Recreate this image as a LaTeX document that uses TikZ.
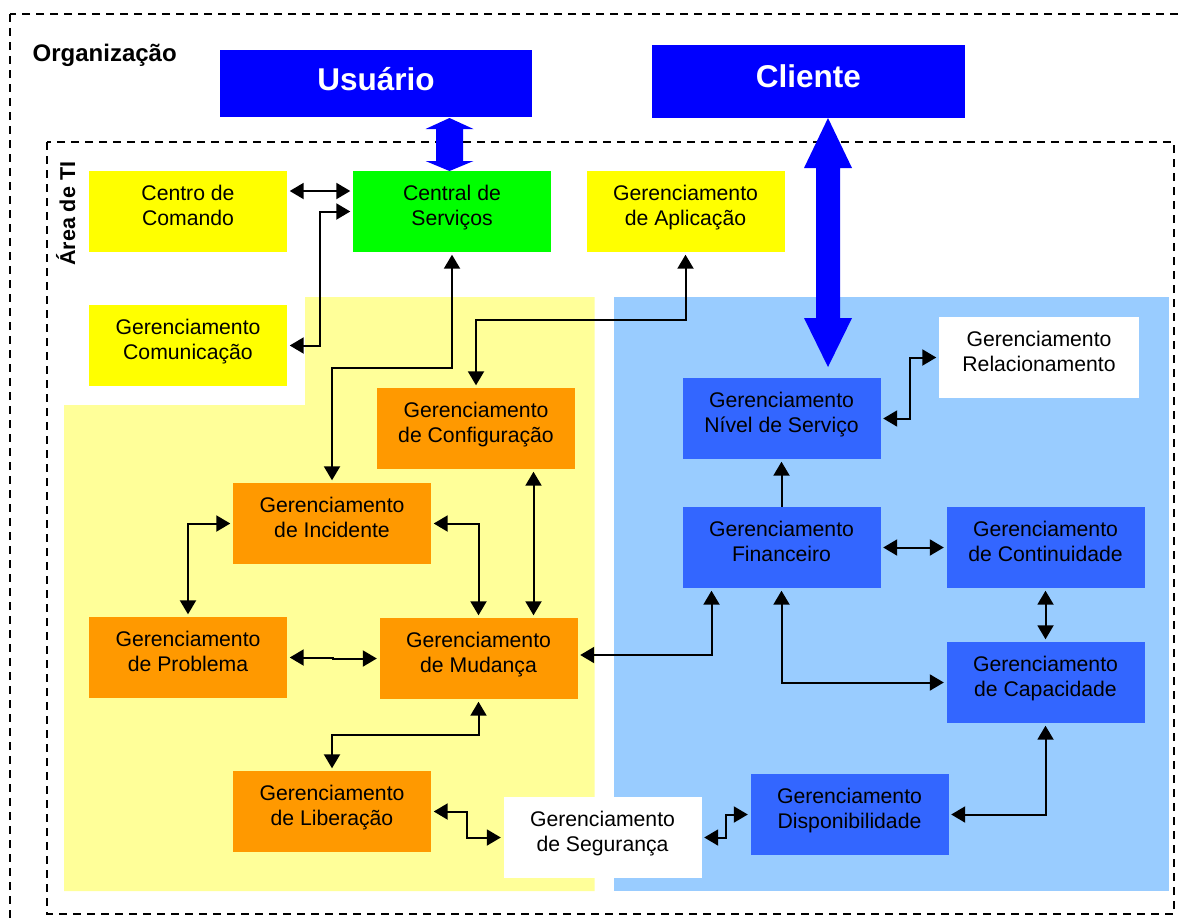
\documentclass[tikz,border=0pt]{standalone}
\usepackage{fontspec}
\setmainfont{Liberation Sans}
\usetikzlibrary{arrows.meta}

\definecolor{cblue}{HTML}{0000FF}
\definecolor{cyellow}{HTML}{FFFF00}
\definecolor{cgreen}{HTML}{00FF00}
\definecolor{corange}{HTML}{FF9900}
\definecolor{cpale}{HTML}{FFFF99}
\definecolor{csky}{HTML}{99CCFF}
\definecolor{cmid}{HTML}{3366FF}

% two-line box label with fixed top and bottom extents
\newcommand\twol[2]{\rule{0pt}{18pt}#1\\#2\rule[-15.5pt]{0pt}{15.5pt}}

\tikzset{
  proc/.style={minimum width=198pt, minimum height=81pt, inner sep=0pt,
    align=center, text=black, font=\fontsize{21.2}{24.5}\selectfont},
  topbox/.style={fill=cblue, inner sep=0pt, text=white,
    font=\bfseries\fontsize{31.5}{36}\selectfont},
  frame/.style={dash pattern=on 8pt off 6pt, line width=2pt},
  link/.style={line width=2pt,
    {Triangle[length=14pt,width=16pt]}-{Triangle[length=14pt,width=16pt]},
    shorten <=2.5pt, shorten >=2.5pt},
  onelink/.style={line width=2pt, -{Triangle[length=14pt,width=16pt]},
    shorten >=2.5pt},
}

\begin{document}
\begin{tikzpicture}[x=1pt,y=-1pt]
\useasboundingbox (0,0) rectangle (1180,919);
\fill[white] (0,0) rectangle (1180,919);

% organisation and IT area frames
\draw[frame] (10,14) rectangle (1190,930);
\draw[frame] (47,142) rectangle (1174,914);

% operational (yellow) and tactical (blue) regions
\fill[cpale] (305,297) -- (594.5,297) -- (594.5,891) -- (64,891) -- (64,405) -- (305,405) -- cycle;
\fill[csky] (614,297) rectangle (1169,891);

% titles
\node[font=\bfseries\fontsize{24}{28}\selectfont, anchor=base west, inner sep=0pt] (org) at (32.5,61.7) {Organização};
\node[font=\bfseries\fontsize{21.5}{26}\selectfont, rotate=90, anchor=base west, inner sep=0pt] (ti) at (75,266) {Área de TI};

% user and client
\node[topbox, minimum width=312pt, minimum height=67pt, text height=23pt, text depth=10pt] (us) at (376,83.5) {Usuário};
\node[topbox, minimum width=313pt, minimum height=73pt, text height=22pt, text depth=10.6pt] (cl) at (808.3,81.3) {Cliente};

% processes
\node[proc, fill=cyellow] (cc)   at (188,211.5)   {\twol{Centro de}{Comando}};
\node[proc, fill=cgreen]  (cs)   at (452,211.5)   {\twol{Central de}{Serviços}};
\node[proc, fill=cyellow] (ap)   at (685.5,211.5) {\twol{Gerenciamento}{de Aplicação}};
\node[proc, fill=cyellow] (com)  at (188,345.5)   {\twol{Gerenciamento}{Comunicação}};
\node[proc, fill=corange] (cfg)  at (476,428.5)   {\twol{Gerenciamento}{de Configuração}};
\node[proc, fill=corange] (inc)  at (332,523.5)   {\twol{Gerenciamento}{de Incidente}};
\node[proc, fill=corange] (prob) at (188,657.5)   {\twol{Gerenciamento}{de Problema}};
\node[proc, fill=corange] (mud)  at (478.5,658.5) {\twol{Gerenciamento}{de Mudança}};
\node[proc, fill=corange] (lib)  at (332,811.5)   {\twol{Gerenciamento}{de Liberação}};
\node[proc, fill=white]   (seg)  at (602.5,837.5) {\twol{Gerenciamento}{de Segurança}};
\node[proc, fill=white, minimum width=200pt] (rel) at (1039,357.5) {\twol{Gerenciamento}{Relacionamento}};
\node[proc, fill=cmid]    (niv)  at (781.5,418.5) {\twol{Gerenciamento}{Nível de Serviço}};
\node[proc, fill=cmid]    (fin)  at (781.5,547.5) {\twol{Gerenciamento}{Financeiro}};
\node[proc, fill=cmid]    (cont) at (1045.5,547.5) {\twol{Gerenciamento}{de Continuidade}};
\node[proc, fill=cmid]    (cap)  at (1045.5,682.5) {\twol{Gerenciamento}{de Capacidade}};
\node[proc, fill=cmid]    (disp) at (849.5,814.5) {\twol{Gerenciamento}{Disponibilidade}};

% broad double arrows from user and client
\fill[cblue] (449.5,118) -- (473.5,129) -- (463,129) -- (463,161) -- (473.5,161)
  -- (449.5,171) -- (425.5,161) -- (436,161) -- (436,129) -- (425.5,129) -- cycle;
\fill[cblue] (828,118) -- (852,168) -- (840,168) -- (840,318) -- (852,318)
  -- (828,367) -- (804,318) -- (816,318) -- (816,168) -- (804,168) -- cycle;

% relations between processes
\draw[link] ([yshift=20.5pt]cc.east) -- ([yshift=20.5pt]cs.west);
\draw[link] (com.east) -- ++(33,0) |- (cs.west);
\draw[link] (inc.north) -- ++(0,-115) -| (cs.south);
\draw[link] (cfg.north) -- ++(0,-68) -| (ap.south);
\draw[link] (inc.west) -| (prob.north);
\draw[link] (inc.east) -| (mud.north);
\coordinate (cm) at ([xshift=57.5pt]cfg.south);
\draw[link] (cm) -- (cm |- mud.north);
\draw[link] (prob.east) -- ++(46,0) |- (mud.west);
\draw[link] (mud.south) -- ++(0,36) -| (lib.north);
\draw[link] (lib.east) -- ++(36,0) |- (seg.west);
\draw[link] (seg.east) -- ++(24.5,0) |- (disp.west);
\draw[link] (disp.east) -| (cap.south);
\draw[link] (cont.south) -- (cap.north);
\draw[link] (fin.south) |- (cap.west);
\coordinate (mm) at ([yshift=3.5pt]mud.east);
\coordinate (fm) at ([xshift=-70pt]fin.south);
\draw[link] (mm) -| (fm);
\draw[onelink] (fin.north) -- (niv.south);
\draw[link] (fin.east) -- (cont.west);
\draw[link] (niv.east) -- ++(29,0) |- (rel.west);
\end{tikzpicture}
\end{document}
